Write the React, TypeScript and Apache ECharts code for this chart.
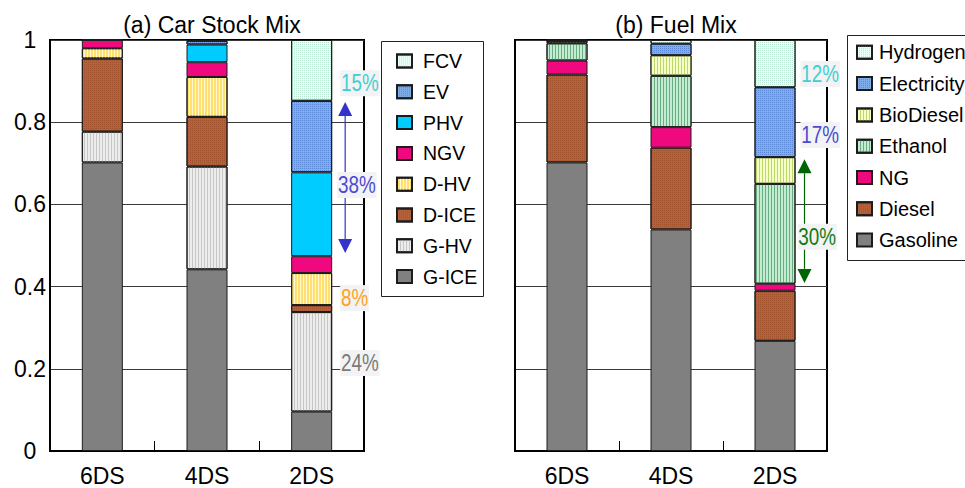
import React, { useEffect, useRef } from 'react';
import * as echarts from 'echarts';

const categories = ['6DS', '4DS', '2DS'];

// (a) Car stock mix (shares)
const gIce = [0.702, 0.442, 0.096];
const gHv = [0.075, 0.25, 0.242];
const dIce = [0.178, 0.121, 0.017];
const dHv = [0.025, 0.097, 0.078];
const ngv = [0.02, 0.036, 0.041];
const phv = [0, 0.043, 0.204];
const ev = [0, 0.009, 0.174];
const fcv = [0, 0.002, 0.148];

// (b) Fuel mix (shares)
const gasoline = [0.702, 0.539, 0.268];
const diesel = [0.214, 0.199, 0.122];
const ng = [0.034, 0.05, 0.017];
const ethanol = [0.042, 0.125, 0.243];
const biodiesel = [0.006, 0.05, 0.065];
const electricity = [0.001, 0.028, 0.17];
const hydrogen = [0.001, 0.009, 0.115];

// annotations
const carNotes = ['15%', '38%', '8%', '24%'];
const carNoteAt = [0.895, 0.647, 0.372, 0.214];
const carArrow = [0.849, 0.482];
const fuelNotes = ['12%', '17%', '30%'];
const fuelNoteAt = [0.917, 0.769, 0.521];
const fuelArrow = [0.71, 0.409];

const carLegend = ['FCV', 'EV', 'PHV', 'NGV', 'D-HV', 'D-ICE', 'G-HV', 'G-ICE'];
const fuelLegend = ['Hydrogen', 'Electricity', 'BioDiesel', 'Ethanol', 'NG', 'Diesel', 'Gasoline'];

const SANS = "'Liberation Sans', Arial, sans-serif";

const stripes = (color: string) => ({ symbol: 'rect', symbolSize: 1, dashArrayX: [1, 2], dashArrayY: [4, 0], color, rotation: 0 });
const dots = (color: string) => ({ symbol: 'rect', symbolSize: 1, dashArrayX: [1, 1], dashArrayY: [1, 1], color, rotation: 0 });

const ST: Record<string, any> = {
  gIce: { color: '#808080' },
  gHv: { color: '#ededed', decal: stripes('#c6c6c6') },
  dIce: { color: '#b5623c', decal: dots('rgba(150,70,35,0.6)') },
  dHv: { color: '#ffdf70', decal: stripes('rgba(255,250,215,0.9)') },
  ng: { color: '#f0087f' },
  phv: { color: '#00ccff' },
  ev: { color: '#80aee8', decal: dots('#5a88d4') },
  fcv: { color: '#eafff6', decal: dots('#b8e8d4') },
  eth: { color: '#c4ecd2', decal: stripes('#66ad80') },
  bio: { color: '#f6ffc8', decal: stripes('#bcd868') },
};

function bar(name: string, data: number[], g: number, s: any) {
  return {
    type: 'bar',
    name,
    data,
    xAxisIndex: g,
    yAxisIndex: g,
    stack: 'stack' + g,
    barWidth: 41,
    itemStyle: { color: s.color, decal: s.decal, borderColor: '#1c1c1c', borderWidth: 1 },
    emphasis: { disabled: true },
  };
}

export default function App() {
  const ref = useRef<HTMLDivElement>(null);
  useEffect(() => {
    if (!ref.current) return;
    const chart = echarts.init(ref.current, null, { renderer: 'svg' });
    const xAxisBase = (g: number) => ({
      type: 'category',
      gridIndex: g,
      data: categories,
      axisLine: { show: true, lineStyle: { color: '#000', width: 2 } },
      axisTick: { show: true, inside: true, length: 10, lineStyle: { color: '#000', width: 1 } },
      axisLabel: { color: '#000', fontSize: 23, fontFamily: SANS, margin: 13 },
    });
    const yAxisBase = (g: number, showLabels: boolean) => ({
      type: 'value',
      gridIndex: g,
      min: 0,
      max: 1,
      interval: 0.2,
      axisLine: { show: true, lineStyle: { color: '#000', width: 2 } },
      axisTick: { show: false },
      axisLabel: {
        show: showLabels,
        color: '#000',
        fontSize: 23,
        fontFamily: SANS,
        align: 'center',
        margin: 20,
        formatter: (v: number) => (v === 0 ? '0' : v === 1 ? '1' : v.toFixed(1)),
      },
      splitLine: { show: true, lineStyle: { color: '#3a3a3a', width: 1 } },
    });
    const legendBase = (data: string[], left: number, top: number, gap: number, size: number, pad: number) => ({
      orient: 'vertical',
      left,
      top,
      padding: 0,
      itemWidth: 15,
      itemHeight: 13,
      itemGap: gap,
      icon: 'rect',
      selectedMode: false,
      data,
      textStyle: { fontSize: size, fontFamily: SANS, color: '#000', padding: [0, 0, 0, pad] },
    });
    chart.setOption({
      animation: false,
      title: [
        { text: '(a) Car Stock Mix', left: 207, top: 8, textAlign: 'center', textStyle: { fontSize: 23, fontWeight: 'normal', fontFamily: SANS, color: '#000' } },
        { text: '(b) Fuel Mix', left: 671, top: 8, textAlign: 'center', textStyle: { fontSize: 23, fontWeight: 'normal', fontFamily: SANS, color: '#000' } },
      ],
      grid: [
        { left: 50, top: 40, width: 314, height: 411, show: true, borderColor: '#000', borderWidth: 2, backgroundColor: 'transparent' },
        { left: 515, top: 40, width: 312, height: 411, show: true, borderColor: '#000', borderWidth: 2, backgroundColor: 'transparent' },
      ],
      xAxis: [xAxisBase(0), xAxisBase(1)],
      yAxis: [yAxisBase(0, true), yAxisBase(1, false)],
      legend: [
        legendBase(carLegend, 396, 51, 10.8, 19.5, 6),
        legendBase(fuelLegend, 856, 42.3, 11.3, 20, 2),
      ],
      series: [
        bar('G-ICE', gIce, 0, ST.gIce),
        bar('G-HV', gHv, 0, ST.gHv),
        bar('D-ICE', dIce, 0, ST.dIce),
        bar('D-HV', dHv, 0, ST.dHv),
        bar('NGV', ngv, 0, ST.ng),
        bar('PHV', phv, 0, ST.phv),
        bar('EV', ev, 0, ST.ev),
        bar('FCV', fcv, 0, ST.fcv),
        bar('Gasoline', gasoline, 1, ST.gIce),
        bar('Diesel', diesel, 1, ST.dIce),
        bar('NG', ng, 1, ST.ng),
        bar('Ethanol', ethanol, 1, ST.eth),
        bar('BioDiesel', biodiesel, 1, ST.bio),
        bar('Electricity', electricity, 1, ST.ev),
        bar('Hydrogen', hydrogen, 1, ST.fcv),
      ],
    });

    const px = (g: number, c: number, v: number) =>
      chart.convertToPixel({ xAxisIndex: g, yAxisIndex: g } as any, [c, v]) as number[];
    const halfBar = 20.5;
    const graphics: any[] = [];

    const arrow = (g: number, span: number[], dx: number, color: string, head: number) => {
      const top = px(g, 2, span[0]);
      const bot = px(g, 2, span[1]);
      const x = top[0] + halfBar + dx;
      graphics.push({ type: 'line', z: 50, shape: { x1: x, y1: top[1] + head, x2: x, y2: bot[1] - head }, style: { stroke: color, lineWidth: 1.2 } });
      graphics.push({ type: 'polygon', z: 50, shape: { points: [[x, top[1]], [x - head / 2, top[1] + head], [x + head / 2, top[1] + head]] }, style: { fill: color } });
      graphics.push({ type: 'polygon', z: 50, shape: { points: [[x, bot[1]], [x - head / 2, bot[1] - head], [x + head / 2, bot[1] - head]] }, style: { fill: color } });
    };
    arrow(0, carArrow, 13, '#3333cc', 14);
    arrow(1, fuelArrow, 9, '#006400', 14);

    const note = (g: number, text: string, v: number, dx: number, color: string) => {
      const p = px(g, 2, v);
      graphics.push({
        type: 'text',
        z: 60,
        x: p[0] + halfBar + dx,
        y: p[1],
        scaleX: 0.82,
        style: {
          text,
          x: 0,
          y: 0,
          align: 'left',
          verticalAlign: 'middle',
          fill: color,
          fontSize: 23,
          fontFamily: SANS,
          backgroundColor: '#f3f3f5',
          padding: [2, 1, 1, 1],
        },
      });
    };
    const carColors = ['#3fcfcf', '#4a4ad4', '#ffa01e', '#7a7a7a'];
    carNotes.forEach((t, i) => note(0, t, carNoteAt[i], i === 1 ? 5 : 8, carColors[i]));
    const fuelColors = ['#3fcfcf', '#4a4ad4', '#127a12'];
    fuelNotes.forEach((t, i) => note(1, t, fuelNoteAt[i], i === 2 ? 2 : 5, fuelColors[i]));

    graphics.push({ type: 'rect', z: 40, shape: { x: 381.5, y: 41.5, width: 102, height: 255 }, style: { fill: 'none', stroke: '#222', lineWidth: 1 } });
    graphics.push({ type: 'rect', z: 40, shape: { x: 847.5, y: 35.5, width: 130, height: 225 }, style: { fill: 'none', stroke: '#222', lineWidth: 1 } });

    chart.setOption({ graphic: graphics });
    return () => chart.dispose();
  }, []);
  return <div ref={ref} style={{ position: 'absolute', left: 0, top: 0, width: 965, height: 488 }} />;
}
